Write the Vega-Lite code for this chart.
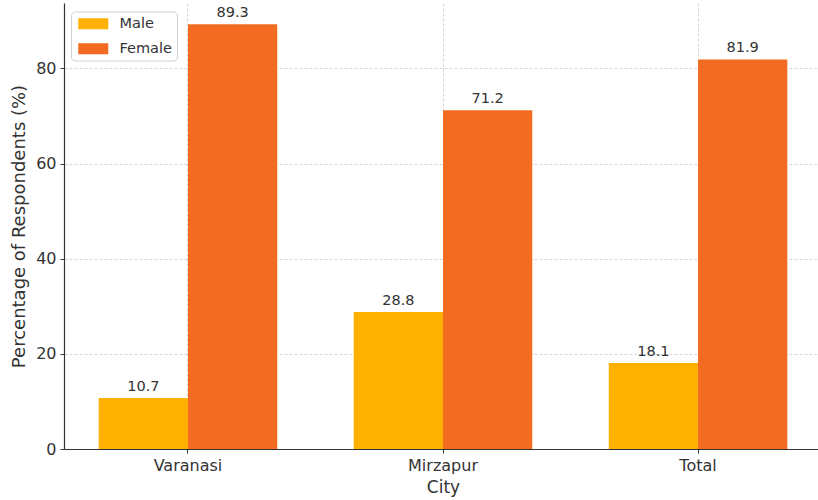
{
  "$schema": "https://vega.github.io/schema/vega-lite/v6.json",
  "width": 754,
  "height": 446,
  "autosize": {"type": "none"},
  "padding": {"left": 64, "top": 3, "right": 0, "bottom": 51},
  "background": "white",
  "config": {
    "font": "DejaVu Sans",
    "view": {"stroke": null},
    "axis": {
      "domainColor": "#333333",
      "domainWidth": 1.2,
      "tickColor": "#333333",
      "tickSize": 4,
      "tickWidth": 1,
      "labelColor": "#333333",
      "titleColor": "#333333",
      "labelFontSize": 16,
      "titleFontSize": 17,
      "titleFontWeight": "normal",
      "gridColor": "#cccccc",
      "gridDash": [3, 2],
      "gridWidth": 0.8
    }
  },
  "data": {
    "values": [
      {"City": "Varanasi", "Gender": "Male", "Percentage": 10.7},
      {"City": "Varanasi", "Gender": "Female", "Percentage": 89.3},
      {"City": "Mirzapur", "Gender": "Male", "Percentage": 28.8},
      {"City": "Mirzapur", "Gender": "Female", "Percentage": 71.2},
      {"City": "Total", "Gender": "Male", "Percentage": 18.1},
      {"City": "Total", "Gender": "Female", "Percentage": 81.9}
    ]
  },
  "encoding": {
    "x": {
      "field": "City",
      "type": "nominal",
      "sort": ["Varanasi", "Mirzapur", "Total"],
      "scale": {"range": [0, 758], "paddingInner": 0.3, "paddingOuter": 0.136},
      "axis": {
        "title": "City",
        "labelAngle": 0,
        "labelPadding": 4,
        "titlePadding": 6,
        "grid": true,
        "bandPosition": 0.5
      }
    },
    "xOffset": {
      "field": "Gender",
      "type": "nominal",
      "sort": ["Male", "Female"],
      "scale": {"paddingInner": 0, "paddingOuter": 0}
    },
    "y": {
      "field": "Percentage",
      "type": "quantitative",
      "scale": {"domain": [0, 93.765], "nice": false},
      "axis": {
        "title": "Percentage of Respondents (%)",
        "titleFontSize": 18,
        "values": [0, 20, 40, 60, 80],
        "grid": true,
        "labelPadding": 4,
        "titlePadding": 7
      }
    }
  },
  "layer": [
    {
      "mark": {"type": "bar"},
      "encoding": {
        "color": {
          "field": "Gender",
          "type": "nominal",
          "sort": ["Male", "Female"],
          "scale": {"domain": ["Male", "Female"], "range": ["#FFB000", "#F26B21"]},
          "legend": {
            "title": null,
            "orient": "none",
            "legendX": 7,
            "legendY": 8.5,
            "direction": "vertical",
            "fillColor": "white",
            "strokeColor": "#d0d0d0",
            "cornerRadius": 4,
            "padding": 5,
            "symbolType": "M-1,-1.1H5V1.1H-1Z",
            "symbolSize": 100,
            "symbolStrokeWidth": 0,
            "symbolOpacity": 1,
            "labelFontSize": 14.5,
            "labelColor": "#333333",
            "labelOffset": 29,
            "rowPadding": 10
          }
        }
      }
    },
    {
      "mark": {
        "type": "text",
        "baseline": "bottom",
        "dy": -4,
        "fontSize": 14.5,
        "color": "#333333"
      },
      "encoding": {
        "text": {"field": "Percentage", "type": "quantitative", "format": ".1f"}
      }
    }
  ]
}
